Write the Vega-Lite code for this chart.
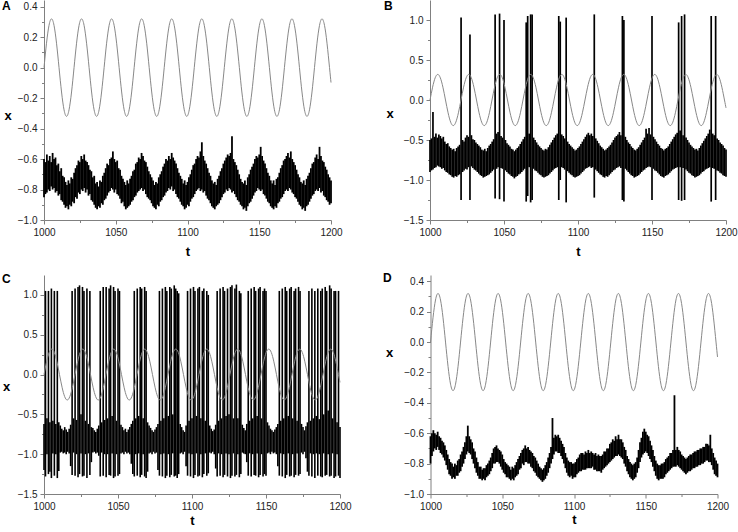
{
"$schema": "https://vega.github.io/schema/vega-lite/v6.json",
"padding": {"left": 2, "top": 0, "right": 0, "bottom": 0},
"background": "white",
"config": {
  "view": {"stroke": null},
  "font": "Liberation Sans",
  "axis": {"grid": false, "domainColor": "#808080", "tickColor": "#808080", "domainWidth": 1, "tickWidth": 1, "tickCount": 100, "labelFont": "Liberation Sans", "labelFontSize": 10, "labelColor": "#222222", "labelPadding": 3, "labelFlush": false, "labelOverlap": false, "titleFont": "Liberation Sans", "titleFontSize": 13, "titleFontWeight": "bold", "titleColor": "#000000"}
},
"datasets": {
  "sine": [{"t":1000,"x":0},{"t":1001.75,"x":0.16},{"t":1003.49,"x":0.277},{"t":1005.24,"x":0.32},{"t":1006.98,"x":0.277},{"t":1008.73,"x":0.16},{"t":1010.47,"x":0},{"t":1012.22,"x":-0.16},{"t":1013.96,"x":-0.277},{"t":1015.71,"x":-0.32},{"t":1017.45,"x":-0.277},{"t":1019.2,"x":-0.16},{"t":1020.94,"x":0},{"t":1022.69,"x":0.16},{"t":1024.43,"x":0.277},{"t":1026.18,"x":0.32},{"t":1027.93,"x":0.277},{"t":1029.67,"x":0.16},{"t":1031.42,"x":0},{"t":1033.16,"x":-0.16},{"t":1034.91,"x":-0.277},{"t":1036.65,"x":-0.32},{"t":1038.4,"x":-0.277},{"t":1040.14,"x":-0.16},{"t":1041.89,"x":0},{"t":1043.63,"x":0.16},{"t":1045.38,"x":0.277},{"t":1047.12,"x":0.32},{"t":1048.87,"x":0.277},{"t":1050.61,"x":0.16},{"t":1052.36,"x":0},{"t":1054.11,"x":-0.16},{"t":1055.85,"x":-0.277},{"t":1057.6,"x":-0.32},{"t":1059.34,"x":-0.277},{"t":1061.09,"x":-0.16},{"t":1062.83,"x":0},{"t":1064.58,"x":0.16},{"t":1066.32,"x":0.277},{"t":1068.07,"x":0.32},{"t":1069.81,"x":0.277},{"t":1071.56,"x":0.16},{"t":1073.3,"x":0},{"t":1075.05,"x":-0.16},{"t":1076.79,"x":-0.277},{"t":1078.54,"x":-0.32},{"t":1080.29,"x":-0.277},{"t":1082.03,"x":-0.16},{"t":1083.78,"x":0},{"t":1085.52,"x":0.16},{"t":1087.27,"x":0.277},{"t":1089.01,"x":0.32},{"t":1090.76,"x":0.277},{"t":1092.5,"x":0.16},{"t":1094.25,"x":0},{"t":1095.99,"x":-0.16},{"t":1097.74,"x":-0.277},{"t":1099.48,"x":-0.32},{"t":1101.23,"x":-0.277},{"t":1102.97,"x":-0.16},{"t":1104.72,"x":0},{"t":1106.47,"x":0.16},{"t":1108.21,"x":0.277},{"t":1109.96,"x":0.32},{"t":1111.7,"x":0.277},{"t":1113.45,"x":0.16},{"t":1115.19,"x":0},{"t":1116.94,"x":-0.16},{"t":1118.68,"x":-0.277},{"t":1120.43,"x":-0.32},{"t":1122.17,"x":-0.277},{"t":1123.92,"x":-0.16},{"t":1125.66,"x":0},{"t":1127.41,"x":0.16},{"t":1129.15,"x":0.277},{"t":1130.9,"x":0.32},{"t":1132.65,"x":0.277},{"t":1134.39,"x":0.16},{"t":1136.14,"x":0},{"t":1137.88,"x":-0.16},{"t":1139.63,"x":-0.277},{"t":1141.37,"x":-0.32},{"t":1143.12,"x":-0.277},{"t":1144.86,"x":-0.16},{"t":1146.61,"x":0},{"t":1148.35,"x":0.16},{"t":1150.1,"x":0.277},{"t":1151.84,"x":0.32},{"t":1153.59,"x":0.277},{"t":1155.33,"x":0.16},{"t":1157.08,"x":0},{"t":1158.83,"x":-0.16},{"t":1160.57,"x":-0.277},{"t":1162.32,"x":-0.32},{"t":1164.06,"x":-0.277},{"t":1165.81,"x":-0.16},{"t":1167.55,"x":0},{"t":1169.3,"x":0.16},{"t":1171.04,"x":0.277},{"t":1172.79,"x":0.32},{"t":1174.53,"x":0.277},{"t":1176.28,"x":0.16},{"t":1178.02,"x":0},{"t":1179.77,"x":-0.16},{"t":1181.51,"x":-0.277},{"t":1183.26,"x":-0.32},{"t":1185.01,"x":-0.277},{"t":1186.75,"x":-0.16},{"t":1188.5,"x":0},{"t":1190.24,"x":0.16},{"t":1191.99,"x":0.277},{"t":1193.73,"x":0.32},{"t":1195.48,"x":0.277},{"t":1197.22,"x":0.16},{"t":1198.97,"x":0},{"t":1200,"x":-0.098}]
},
"spacing": 13,
"vconcat": [
{
"hconcat": [
{
"width": 287, "height": 220,
"title": {"text": "A", "anchor": "start", "frame": "group", "orient": "top", "offset": -13, "dx": -42, "fontSize": 12, "fontWeight": "bold", "font": "Liberation Sans", "color": "#000"},
"layer": [
{"data": {"values": "t,lo,hi\n1000,-0.85,-0.60\n1001,-0.83,-0.62\n1002,-0.82,-0.57\n1003,-0.80,-0.61\n1004,-0.81,-0.58\n1005,-0.78,-0.62\n1006,-0.80,-0.56\n1007,-0.79,-0.60\n1008,-0.82,-0.59\n1009,-0.81,-0.64\n1010,-0.84,-0.63\n1011,-0.83,-0.68\n1012,-0.87,-0.66\n1013,-0.88,-0.71\n1014,-0.90,-0.72\n1015,-0.92,-0.75\n1016,-0.91,-0.77\n1017,-0.93,-0.74\n1018,-0.90,-0.76\n1019,-0.91,-0.72\n1020,-0.88,-0.73\n1021,-0.89,-0.69\n1022,-0.85,-0.66\n1023,-0.86,-0.64\n1024,-0.82,-0.61\n1025,-0.83,-0.62\n1026,-0.80,-0.58\n1027,-0.81,-0.60\n1028,-0.79,-0.57\n1029,-0.82,-0.61\n1030,-0.80,-0.62\n1031,-0.84,-0.64\n1032,-0.83,-0.67\n1033,-0.87,-0.68\n1034,-0.88,-0.72\n1035,-0.90,-0.71\n1036,-0.92,-0.76\n1037,-0.93,-0.75\n1038,-0.91,-0.78\n1039,-0.92,-0.74\n1040,-0.89,-0.75\n1041,-0.90,-0.71\n1042,-0.87,-0.69\n1043,-0.86,-0.66\n1044,-0.84,-0.63\n1045,-0.82,-0.64\n1046,-0.81,-0.60\n1047,-0.79,-0.59\n1048,-0.80,-0.55\n1049,-0.82,-0.60\n1050,-0.80,-0.62\n1051,-0.83,-0.61\n1052,-0.84,-0.66\n1053,-0.86,-0.67\n1054,-0.89,-0.71\n1055,-0.88,-0.73\n1056,-0.91,-0.75\n1057,-0.93,-0.77\n1058,-0.92,-0.74\n1059,-0.91,-0.76\n1060,-0.90,-0.73\n1061,-0.88,-0.71\n1062,-0.87,-0.68\n1063,-0.85,-0.67\n1064,-0.84,-0.63\n1065,-0.82,-0.62\n1066,-0.81,-0.59\n1067,-0.80,-0.60\n1068,-0.79,-0.56\n1069,-0.81,-0.58\n1070,-0.80,-0.61\n1071,-0.83,-0.62\n1072,-0.85,-0.65\n1073,-0.86,-0.68\n1074,-0.87,-0.70\n1075,-0.89,-0.72\n1076,-0.91,-0.74\n1077,-0.92,-0.77\n1078,-0.93,-0.75\n1079,-0.90,-0.76\n1080,-0.91,-0.72\n1081,-0.88,-0.70\n1082,-0.87,-0.68\n1083,-0.85,-0.65\n1084,-0.84,-0.63\n1085,-0.82,-0.60\n1086,-0.81,-0.61\n1087,-0.79,-0.58\n1088,-0.80,-0.60\n1089,-0.78,-0.56\n1090,-0.81,-0.59\n1091,-0.80,-0.61\n1092,-0.83,-0.63\n1093,-0.85,-0.66\n1094,-0.86,-0.69\n1095,-0.88,-0.71\n1096,-0.90,-0.73\n1097,-0.91,-0.76\n1098,-0.93,-0.74\n1099,-0.92,-0.77\n1100,-0.90,-0.75\n1101,-0.91,-0.72\n1102,-0.88,-0.70\n1103,-0.86,-0.67\n1104,-0.85,-0.64\n1105,-0.83,-0.63\n1106,-0.81,-0.60\n1107,-0.80,-0.58\n1108,-0.79,-0.59\n1109,-0.81,-0.55\n1110,-0.80,-0.49\n1111,-0.82,-0.58\n1112,-0.81,-0.61\n1113,-0.84,-0.63\n1114,-0.86,-0.66\n1115,-0.87,-0.69\n1116,-0.89,-0.71\n1117,-0.91,-0.74\n1118,-0.92,-0.76\n1119,-0.93,-0.75\n1120,-0.91,-0.77\n1121,-0.90,-0.73\n1122,-0.89,-0.71\n1123,-0.87,-0.68\n1124,-0.85,-0.66\n1125,-0.83,-0.63\n1126,-0.82,-0.61\n1127,-0.80,-0.59\n1128,-0.81,-0.57\n1129,-0.79,-0.58\n1130,-0.80,-0.56\n1131,-0.82,-0.45\n1132,-0.81,-0.60\n1133,-0.83,-0.62\n1134,-0.85,-0.64\n1135,-0.87,-0.67\n1136,-0.88,-0.70\n1137,-0.90,-0.73\n1138,-0.91,-0.75\n1139,-0.93,-0.76\n1140,-0.92,-0.74\n1141,-0.94,-0.77\n1142,-0.91,-0.72\n1143,-0.89,-0.70\n1144,-0.88,-0.67\n1145,-0.86,-0.65\n1146,-0.84,-0.63\n1147,-0.82,-0.60\n1148,-0.81,-0.58\n1149,-0.79,-0.59\n1150,-0.80,-0.57\n1151,-0.81,-0.52\n1152,-0.80,-0.58\n1153,-0.83,-0.61\n1154,-0.84,-0.63\n1155,-0.86,-0.66\n1156,-0.88,-0.69\n1157,-0.89,-0.71\n1158,-0.91,-0.74\n1159,-0.92,-0.76\n1160,-0.93,-0.74\n1161,-0.91,-0.77\n1162,-0.92,-0.73\n1163,-0.89,-0.72\n1164,-0.88,-0.69\n1165,-0.86,-0.66\n1166,-0.85,-0.64\n1167,-0.83,-0.61\n1168,-0.81,-0.60\n1169,-0.80,-0.58\n1170,-0.81,-0.56\n1171,-0.79,-0.59\n1172,-0.80,-0.55\n1173,-0.82,-0.60\n1174,-0.83,-0.62\n1175,-0.85,-0.64\n1176,-0.86,-0.67\n1177,-0.88,-0.70\n1178,-0.90,-0.72\n1179,-0.91,-0.75\n1180,-0.93,-0.76\n1181,-0.92,-0.74\n1182,-0.94,-0.77\n1183,-0.91,-0.73\n1184,-0.90,-0.71\n1185,-0.88,-0.69\n1186,-0.86,-0.66\n1187,-0.84,-0.63\n1188,-0.83,-0.62\n1189,-0.81,-0.59\n1190,-0.80,-0.57\n1191,-0.81,-0.60\n1192,-0.79,-0.52\n1193,-0.82,-0.58\n1194,-0.81,-0.61\n1195,-0.84,-0.62\n1196,-0.85,-0.65\n1197,-0.87,-0.67\n1198,-0.88,-0.70\n1199,-0.90,-0.72\n1200,-0.89,-0.74", "format": {"type": "csv", "parse": {"t": "number", "lo": "number", "hi": "number"}}},
 "mark": {"type": "rule", "color": "#000000", "strokeWidth": 1.8},
 "encoding": {
  "x": {"field": "t", "type": "quantitative", "title": "t", "scale": {"domain": [1000, 1200], "nice": false, "zero": false}, "axis": {"values": [1000,1025,1050,1075,1100,1125,1150,1175,1200], "tickCount": 100, "format": "d", "labelOverlap": false, "labelExpr": "datum.value % 50 == 0 ? datum.label : ''", "tickSize": {"condition": {"test": "datum.value % 50 != 0", "value": 2.5}, "value": 4}, "titleY": 31, "titleBaseline": "middle"}},
  "y": {"field": "lo", "type": "quantitative", "title": "x", "scale": {"domain": [-1, 0.4436], "nice": false, "zero": false}, "axis": {"values": [-1,-0.9,-0.8,-0.7,-0.6,-0.5,-0.4,-0.3,-0.2,-0.1,0,0.1,0.2,0.3,0.4], "tickCount": 100, "format": ".1f", "labelOverlap": false, "labelExpr": "abs(round(datum.value*10)) % 2 == 1 ? '' : datum.label", "tickSize": {"condition": {"test": "abs(round(datum.value*10)) % 2 == 1", "value": 2.5}, "value": 4}, "titleAngle": 0, "titleX": -36.5, "titleY": 115, "titleAlign": "center", "titleBaseline": "middle"}},
  "y2": {"field": "hi"}
 }},
{"data": {"name": "sine"}, "mark": {"type": "line", "color": "#888888", "strokeWidth": 1, "interpolate": "natural"},
 "encoding": {"x": {"field": "t", "type": "quantitative", "title": "t"}, "y": {"field": "x", "type": "quantitative", "title": "x"}}}
]
},
{
"width": 296, "height": 220,
"title": {"text": "B", "anchor": "start", "frame": "group", "orient": "top", "offset": -13, "dx": -46, "fontSize": 12, "fontWeight": "bold", "font": "Liberation Sans", "color": "#000"},
"layer": [
{"data": {"values": "t,lo,hi\n1000,-0.90,-0.50\n1001,-0.88,-0.48\n1002,-0.87,-0.15\n1003,-0.85,-0.46\n1004,-0.84,-0.42\n1005,-0.82,-0.47\n1006,-0.83,-0.43\n1007,-0.84,-0.45\n1008,-0.86,-0.48\n1009,-0.85,-0.46\n1010,-0.88,-0.52\n1011,-0.90,-0.55\n1012,-0.91,-0.54\n1013,-0.93,-0.58\n1014,-0.94,-0.60\n1015,-0.96,-0.62\n1016,-0.97,-0.61\n1017,-0.95,-0.64\n1018,-0.96,-0.60\n1019,-0.94,-0.58\n1020,-0.93,-0.56\n1021,-1.25,1.03\n1022,-0.90,-0.50\n1023,-0.88,-0.52\n1024,-0.86,-0.47\n1025,-0.87,-0.44\n1026,-0.84,-0.46\n1027,-1.25,0.82\n1028,-0.83,-0.44\n1029,-0.85,-0.49\n1030,-0.87,-0.50\n1031,-0.88,-0.53\n1032,-0.90,-0.55\n1033,-0.92,-0.57\n1034,-0.94,-0.59\n1035,-0.95,-0.62\n1036,-0.97,-0.63\n1037,-0.96,-0.61\n1038,-0.95,-0.64\n1039,-0.94,-0.60\n1040,-0.93,-0.57\n1041,-0.91,-0.55\n1042,-0.89,-0.52\n1043,-0.87,-0.49\n1044,-1.23,1.07\n1045,-0.86,-0.42\n1046,-0.84,-0.40\n1047,-1.24,1.08\n1048,-0.85,-0.45\n1049,-0.86,-0.47\n1050,-1.27,1.00\n1051,-0.88,-0.50\n1052,-0.90,-0.54\n1053,-0.92,-0.56\n1054,-0.93,-0.58\n1055,-0.95,-0.61\n1056,-0.96,-0.62\n1057,-0.98,-0.64\n1058,-0.96,-0.62\n1059,-0.95,-0.60\n1060,-0.93,-0.58\n1061,-0.92,-0.55\n1062,-0.90,-0.52\n1063,-0.88,-0.49\n1064,-0.86,-0.46\n1065,-1.27,0.97\n1066,-1.20,1.05\n1067,-0.84,-0.42\n1068,-1.28,1.07\n1069,-1.25,1.07\n1070,-0.86,-0.47\n1071,-0.88,-0.50\n1072,-0.89,-0.53\n1073,-0.91,-0.56\n1074,-0.93,-0.58\n1075,-0.94,-0.60\n1076,-0.96,-0.62\n1077,-0.97,-0.63\n1078,-0.96,-0.61\n1079,-0.95,-0.62\n1080,-0.94,-0.59\n1081,-0.92,-0.56\n1082,-0.90,-0.53\n1083,-0.88,-0.50\n1084,-0.86,-0.47\n1085,-0.85,-0.44\n1086,-0.84,-0.42\n1087,-1.25,1.05\n1088,-1.00,0.98\n1089,-0.84,-0.43\n1090,-0.85,-0.45\n1091,-0.87,-0.48\n1092,-1.28,1.03\n1093,-0.89,-0.52\n1094,-0.91,-0.55\n1095,-0.93,-0.57\n1096,-0.94,-0.59\n1097,-0.96,-0.61\n1098,-0.97,-0.63\n1099,-0.96,-0.62\n1100,-0.95,-0.60\n1101,-0.94,-0.58\n1102,-0.92,-0.55\n1103,-0.90,-0.52\n1104,-0.88,-0.49\n1105,-0.86,-0.46\n1106,-0.85,-0.43\n1107,-0.84,-0.41\n1108,-0.83,-0.44\n1109,-0.85,-0.42\n1110,-0.84,-0.45\n1111,-1.22,1.07\n1112,-0.87,-0.48\n1113,-0.89,-0.51\n1114,-0.91,-0.54\n1115,-0.93,-0.57\n1116,-0.94,-0.59\n1117,-0.96,-0.61\n1118,-0.97,-0.63\n1119,-0.95,-0.62\n1120,-0.96,-0.60\n1121,-0.94,-0.58\n1122,-0.92,-0.56\n1123,-0.90,-0.53\n1124,-0.88,-0.50\n1125,-0.87,-0.47\n1126,-0.85,-0.45\n1127,-0.84,-0.43\n1128,-0.83,-0.40\n1129,-0.85,-0.44\n1130,-1.25,1.05\n1131,-1.27,1.00\n1132,-0.86,-0.46\n1133,-0.88,-0.50\n1134,-0.90,-0.53\n1135,-0.92,-0.55\n1136,-0.94,-0.58\n1137,-0.95,-0.60\n1138,-0.97,-0.62\n1139,-0.96,-0.63\n1140,-0.95,-0.61\n1141,-0.94,-0.59\n1142,-0.92,-0.56\n1143,-0.90,-0.53\n1144,-0.88,-0.50\n1145,-0.87,-0.47\n1146,-0.85,-0.36\n1147,-0.84,-0.42\n1148,-0.83,-0.35\n1149,-0.84,-0.43\n1150,-1.25,1.05\n1151,-0.86,-0.46\n1152,-0.88,-0.49\n1153,-0.89,-0.52\n1154,-0.91,-0.55\n1155,-0.93,-0.57\n1156,-0.95,-0.60\n1157,-0.96,-0.61\n1158,-0.97,-0.63\n1159,-0.95,-0.61\n1160,-0.94,-0.60\n1161,-0.93,-0.58\n1162,-0.91,-0.55\n1163,-0.89,-0.52\n1164,-0.87,-0.49\n1165,-0.86,-0.46\n1166,-0.85,-0.43\n1167,-0.84,-0.41\n1168,-1.25,0.97\n1169,-0.84,-0.38\n1170,-1.26,1.05\n1171,-0.85,-0.44\n1172,-1.25,1.07\n1173,-0.87,-0.47\n1174,-0.89,-0.50\n1175,-0.91,-0.53\n1176,-0.92,-0.56\n1177,-0.94,-0.58\n1178,-0.95,-0.60\n1179,-0.97,-0.62\n1180,-0.96,-0.61\n1181,-0.95,-0.63\n1182,-0.94,-0.60\n1183,-0.92,-0.57\n1184,-0.90,-0.54\n1185,-0.89,-0.51\n1186,-0.87,-0.48\n1187,-0.86,-0.45\n1188,-0.85,-0.42\n1189,-0.84,-0.37\n1190,-1.27,1.05\n1191,-0.85,-0.42\n1192,-0.86,-0.44\n1193,-1.25,1.05\n1194,-0.88,-0.48\n1195,-0.89,-0.50\n1196,-0.91,-0.53\n1197,-0.92,-0.55\n1198,-0.94,-0.57\n1199,-0.95,-0.60\n1200,-0.96,-0.62", "format": {"type": "csv", "parse": {"t": "number", "lo": "number", "hi": "number"}}},
 "mark": {"type": "rule", "color": "#000000", "strokeWidth": 1.7},
 "encoding": {
  "x": {"field": "t", "type": "quantitative", "title": "t", "scale": {"domain": [1000, 1200], "nice": false, "zero": false}, "axis": {"values": [1000,1025,1050,1075,1100,1125,1150,1175,1200], "tickCount": 100, "format": "d", "labelOverlap": false, "labelExpr": "datum.value % 50 == 0 ? datum.label : ''", "tickSize": {"condition": {"test": "datum.value % 50 != 0", "value": 2.5}, "value": 4}, "titleY": 31, "titleBaseline": "middle"}},
  "y": {"field": "lo", "type": "quantitative", "title": "x", "scale": {"domain": [-1.5, 1.25], "nice": false, "zero": false}, "axis": {"values": [-1.5,-1.25,-1,-0.75,-0.5,-0.25,0,0.25,0.5,0.75,1], "tickCount": 100, "format": ".1f", "labelOverlap": false, "labelExpr": "abs(round(datum.value*4)) % 2 == 1 ? '' : datum.label", "tickSize": {"condition": {"test": "abs(round(datum.value*4)) % 2 == 1", "value": 2.5}, "value": 4}, "titleAngle": 0, "titleX": -40.5, "titleY": 113.5, "titleAlign": "center", "titleBaseline": "middle"}},
  "y2": {"field": "hi"}
 }},
{"data": {"name": "sine"}, "mark": {"type": "line", "color": "#888888", "strokeWidth": 1, "interpolate": "natural"},
 "encoding": {"x": {"field": "t", "type": "quantitative", "title": "t"}, "y": {"field": "x", "type": "quantitative", "title": "x"}}}
]
}
],
"spacing": 99,
"bounds": "flush"
},
{
"hconcat": [
{
"width": 296, "height": 219,
"title": {"text": "C", "anchor": "start", "frame": "group", "orient": "top", "offset": -11.4, "dx": -42, "fontSize": 12, "fontWeight": "bold", "font": "Liberation Sans", "color": "#000"},
"layer": [
{"data": {"values": "t,lo,hi\n1000,-1.20,-0.62\n1001,-1.28,1.05\n1002,-1.00,-0.55\n1003,-1.25,1.05\n1004,-1.22,-0.60\n1005,-1.30,1.08\n1006,-0.99,-0.58\n1007,-1.27,1.05\n1008,-1.00,-0.62\n1009,-1.30,1.05\n1010,-1.21,-0.60\n1011,-0.98,-0.64\n1012,-0.97,-0.68\n1013,-0.99,-0.70\n1014,-0.98,-0.66\n1015,-1.00,-0.69\n1016,-0.97,-0.72\n1017,-0.99,-0.68\n1018,-1.15,-0.63\n1019,-1.26,1.05\n1020,-0.98,-0.55\n1021,-1.27,1.08\n1022,-1.00,-0.57\n1023,-1.29,1.10\n1024,-1.25,1.12\n1025,-0.99,-0.50\n1026,-1.28,1.10\n1027,-1.27,1.05\n1028,-1.00,-0.58\n1029,-1.30,1.08\n1030,-0.99,-0.62\n1031,-1.26,1.05\n1032,-1.10,-0.66\n1033,-0.98,-0.67\n1034,-0.97,-0.70\n1035,-0.99,-0.72\n1036,-0.98,-0.68\n1037,-1.02,-0.64\n1038,-1.28,1.05\n1039,-0.98,-0.60\n1040,-1.27,1.10\n1041,-1.00,-0.57\n1042,-1.29,1.10\n1043,-1.00,-0.55\n1044,-1.26,1.08\n1045,-1.27,1.12\n1046,-0.99,-0.52\n1047,-1.30,1.10\n1048,-1.28,1.05\n1049,-1.00,-0.58\n1050,-1.27,1.08\n1051,-1.25,1.05\n1052,-0.99,-0.63\n1053,-0.98,-0.66\n1054,-1.00,-0.70\n1055,-0.97,-0.68\n1056,-0.99,-0.72\n1057,-0.98,-0.69\n1058,-1.00,-0.66\n1059,-1.12,-0.62\n1060,-1.25,-0.58\n1061,-1.28,1.05\n1062,-1.00,-0.55\n1063,-1.27,1.08\n1064,-0.99,-0.52\n1065,-1.29,1.10\n1066,-1.26,1.08\n1067,-1.00,-0.55\n1068,-1.28,1.10\n1069,-1.30,1.05\n1070,-1.22,-0.60\n1071,-0.99,-0.64\n1072,-0.98,-0.67\n1073,-1.00,-0.70\n1074,-0.97,-0.72\n1075,-0.99,-0.69\n1076,-0.98,-0.66\n1077,-1.20,-0.62\n1078,-1.27,1.05\n1079,-1.00,-0.58\n1080,-1.28,1.08\n1081,-0.99,-0.55\n1082,-1.30,1.10\n1083,-1.27,1.05\n1084,-1.00,-0.52\n1085,-1.29,1.10\n1086,-1.26,1.08\n1087,-0.99,-0.50\n1088,-1.28,1.12\n1089,-1.27,1.08\n1090,-1.30,1.05\n1091,-1.25,1.02\n1092,-0.99,-0.62\n1093,-0.98,-0.66\n1094,-1.00,-0.70\n1095,-0.97,-0.72\n1096,-1.15,-0.64\n1097,-1.27,1.05\n1098,-0.99,-0.58\n1099,-1.28,1.08\n1100,-1.00,-0.55\n1101,-1.30,1.10\n1102,-1.26,1.05\n1103,-0.99,-0.52\n1104,-1.28,1.08\n1105,-1.27,1.10\n1106,-1.00,-0.55\n1107,-1.29,1.05\n1108,-1.25,1.08\n1109,-0.99,-0.58\n1110,-1.27,1.05\n1111,-1.24,1.00\n1112,-0.98,-0.64\n1113,-0.99,-0.68\n1114,-0.97,-0.71\n1115,-1.00,-0.69\n1116,-1.18,-0.63\n1117,-1.28,1.05\n1118,-0.99,-0.58\n1119,-1.27,1.08\n1120,-1.00,-0.55\n1121,-1.29,1.10\n1122,-1.26,1.05\n1123,-0.99,-0.52\n1124,-1.28,1.08\n1125,-1.00,-0.50\n1126,-1.30,1.10\n1127,-1.27,1.12\n1128,-0.99,-0.55\n1129,-1.28,1.08\n1130,-1.26,1.13\n1131,-1.00,-0.55\n1132,-1.29,1.05\n1133,-1.25,1.02\n1134,-0.98,-0.63\n1135,-0.99,-0.67\n1136,-1.00,-0.70\n1137,-1.10,-0.62\n1138,-1.27,1.05\n1139,-0.99,-0.58\n1140,-1.28,1.08\n1141,-1.00,-0.55\n1142,-1.26,1.10\n1143,-1.27,1.05\n1144,-0.99,-0.52\n1145,-1.29,1.08\n1146,-1.26,1.10\n1147,-1.00,-0.55\n1148,-1.28,1.05\n1149,-1.25,1.08\n1150,-1.27,1.05\n1151,-0.99,-0.60\n1152,-0.98,-0.64\n1153,-1.00,-0.68\n1154,-0.97,-0.70\n1155,-0.99,-0.72\n1156,-0.98,-0.69\n1157,-1.00,-0.66\n1158,-1.15,-0.62\n1159,-1.27,1.05\n1160,-0.99,-0.58\n1161,-1.28,1.08\n1162,-1.00,-0.55\n1163,-1.30,1.10\n1164,-1.26,1.05\n1165,-0.99,-0.52\n1166,-1.28,1.08\n1167,-1.27,1.10\n1168,-1.00,-0.55\n1169,-1.29,1.05\n1170,-1.26,1.08\n1171,-0.99,-0.58\n1172,-1.27,1.10\n1173,-1.25,1.05\n1174,-0.98,-0.62\n1175,-1.00,-0.66\n1176,-0.97,-0.70\n1177,-1.05,-0.65\n1178,-1.22,-0.60\n1179,-1.27,1.05\n1180,-0.99,-0.58\n1181,-1.28,1.08\n1182,-1.00,-0.55\n1183,-1.30,1.05\n1184,-0.99,-0.52\n1185,-1.27,1.08\n1186,-1.00,-0.56\n1187,-1.28,1.05\n1188,-1.29,1.08\n1189,-0.99,-0.50\n1190,-1.27,1.10\n1191,-1.26,1.05\n1192,-1.00,-0.45\n1193,-1.28,1.12\n1194,-1.27,1.08\n1195,-0.99,-0.55\n1196,-1.30,1.05\n1197,-1.28,1.05\n1198,-1.00,-0.60\n1199,-1.27,1.05\n1200,-1.30,-0.66", "format": {"type": "csv", "parse": {"t": "number", "lo": "number", "hi": "number"}}},
 "mark": {"type": "rule", "color": "#000000", "strokeWidth": 1.6},
 "encoding": {
  "x": {"field": "t", "type": "quantitative", "title": "t", "scale": {"domain": [1000, 1200], "nice": false, "zero": false}, "axis": {"values": [1000,1025,1050,1075,1100,1125,1150,1175,1200], "tickCount": 100, "format": "d", "labelOverlap": false, "labelExpr": "datum.value % 50 == 0 ? datum.label : ''", "tickSize": {"condition": {"test": "datum.value % 50 != 0", "value": 2.5}, "value": 4}, "titleY": 26.5, "titleBaseline": "middle"}},
  "y": {"field": "lo", "type": "quantitative", "title": "x", "scale": {"domain": [-1.5, 1.25], "nice": false, "zero": false}, "axis": {"values": [-1.5,-1.25,-1,-0.75,-0.5,-0.25,0,0.25,0.5,0.75,1], "tickCount": 100, "format": ".1f", "labelOverlap": false, "labelExpr": "abs(round(datum.value*4)) % 2 == 1 ? '' : datum.label", "tickSize": {"condition": {"test": "abs(round(datum.value*4)) % 2 == 1", "value": 2.5}, "value": 4}, "titleAngle": 0, "titleX": -38, "titleY": 111.5, "titleAlign": "center", "titleBaseline": "middle"}},
  "y2": {"field": "hi"}
 }},
{"data": {"name": "sine"}, "mark": {"type": "line", "color": "#888888", "strokeWidth": 1, "interpolate": "natural"},
 "encoding": {"x": {"field": "t", "type": "quantitative", "title": "t"}, "y": {"field": "x", "type": "quantitative", "title": "x"}}}
]
},
{
"width": 287, "height": 219,
"title": {"text": "D", "anchor": "start", "frame": "group", "orient": "top", "offset": -9.7, "dx": -47.5, "fontSize": 12, "fontWeight": "bold", "font": "Liberation Sans", "color": "#000"},
"layer": [
{"data": {"values": "t,lo,hi\n1000,-0.80,-0.62\n1001,-0.75,-0.60\n1002,-0.72,-0.58\n1003,-0.70,-0.60\n1004,-0.71,-0.61\n1005,-0.69,-0.59\n1006,-0.71,-0.62\n1007,-0.73,-0.63\n1008,-0.74,-0.65\n1009,-0.76,-0.66\n1010,-0.78,-0.68\n1011,-0.81,-0.71\n1012,-0.84,-0.74\n1013,-0.87,-0.77\n1014,-0.88,-0.79\n1015,-0.90,-0.80\n1016,-0.89,-0.82\n1017,-0.90,-0.80\n1018,-0.88,-0.81\n1019,-0.88,-0.78\n1020,-0.86,-0.77\n1021,-0.85,-0.74\n1022,-0.82,-0.72\n1023,-0.80,-0.69\n1024,-0.77,-0.66\n1025,-0.74,-0.62\n1026,-0.72,-0.55\n1027,-0.73,-0.62\n1028,-0.74,-0.64\n1029,-0.77,-0.66\n1030,-0.80,-0.70\n1031,-0.83,-0.72\n1032,-0.86,-0.76\n1033,-0.88,-0.79\n1034,-0.90,-0.82\n1035,-0.90,-0.82\n1036,-0.91,-0.84\n1037,-0.90,-0.83\n1038,-0.91,-0.83\n1039,-0.89,-0.81\n1040,-0.88,-0.80\n1041,-0.87,-0.78\n1042,-0.85,-0.76\n1043,-0.83,-0.73\n1044,-0.80,-0.70\n1045,-0.80,-0.69\n1046,-0.79,-0.68\n1047,-0.79,-0.70\n1048,-0.80,-0.71\n1049,-0.82,-0.72\n1050,-0.84,-0.74\n1051,-0.86,-0.77\n1052,-0.87,-0.79\n1053,-0.89,-0.80\n1054,-0.89,-0.81\n1055,-0.90,-0.82\n1056,-0.91,-0.84\n1057,-0.90,-0.82\n1058,-0.91,-0.83\n1059,-0.89,-0.81\n1060,-0.88,-0.79\n1061,-0.87,-0.77\n1062,-0.84,-0.75\n1063,-0.83,-0.73\n1064,-0.80,-0.71\n1065,-0.81,-0.70\n1066,-0.79,-0.68\n1067,-0.79,-0.70\n1068,-0.80,-0.69\n1069,-0.80,-0.71\n1070,-0.82,-0.72\n1071,-0.83,-0.73\n1072,-0.85,-0.75\n1073,-0.86,-0.76\n1074,-0.88,-0.78\n1075,-0.89,-0.80\n1076,-0.90,-0.82\n1077,-0.91,-0.83\n1078,-0.92,-0.84\n1079,-0.91,-0.83\n1080,-0.90,-0.81\n1081,-0.88,-0.79\n1082,-0.86,-0.76\n1083,-0.83,-0.73\n1084,-0.80,-0.69\n1085,-0.77,-0.50\n1086,-0.74,-0.63\n1087,-0.72,-0.61\n1088,-0.72,-0.62\n1089,-0.73,-0.61\n1090,-0.73,-0.63\n1091,-0.75,-0.65\n1092,-0.77,-0.67\n1093,-0.80,-0.69\n1094,-0.83,-0.73\n1095,-0.86,-0.76\n1096,-0.88,-0.78\n1097,-0.89,-0.79\n1098,-0.88,-0.79\n1099,-0.90,-0.80\n1100,-0.89,-0.80\n1101,-0.89,-0.79\n1102,-0.87,-0.77\n1103,-0.86,-0.76\n1104,-0.85,-0.74\n1105,-0.85,-0.73\n1106,-0.84,-0.73\n1107,-0.84,-0.74\n1108,-0.84,-0.72\n1109,-0.83,-0.73\n1110,-0.83,-0.71\n1111,-0.83,-0.73\n1112,-0.83,-0.72\n1113,-0.82,-0.73\n1114,-0.84,-0.74\n1115,-0.84,-0.73\n1116,-0.85,-0.75\n1117,-0.85,-0.74\n1118,-0.85,-0.75\n1119,-0.86,-0.75\n1120,-0.84,-0.74\n1121,-0.83,-0.72\n1122,-0.82,-0.72\n1123,-0.81,-0.70\n1124,-0.80,-0.70\n1125,-0.79,-0.67\n1126,-0.78,-0.66\n1127,-0.77,-0.64\n1128,-0.76,-0.65\n1129,-0.75,-0.62\n1130,-0.75,-0.64\n1131,-0.74,-0.61\n1132,-0.75,-0.64\n1133,-0.76,-0.64\n1134,-0.77,-0.66\n1135,-0.80,-0.69\n1136,-0.82,-0.71\n1137,-0.85,-0.75\n1138,-0.87,-0.77\n1139,-0.89,-0.79\n1140,-0.90,-0.80\n1141,-0.91,-0.81\n1142,-0.90,-0.80\n1143,-0.89,-0.79\n1144,-0.86,-0.76\n1145,-0.83,-0.71\n1146,-0.79,-0.66\n1147,-0.76,-0.63\n1148,-0.74,-0.59\n1149,-0.73,-0.57\n1150,-0.72,-0.59\n1151,-0.73,-0.61\n1152,-0.75,-0.62\n1153,-0.77,-0.65\n1154,-0.79,-0.68\n1155,-0.82,-0.71\n1156,-0.85,-0.75\n1157,-0.88,-0.78\n1158,-0.90,-0.80\n1159,-0.91,-0.81\n1160,-0.90,-0.81\n1161,-0.90,-0.80\n1162,-0.90,-0.80\n1163,-0.89,-0.79\n1164,-0.87,-0.77\n1165,-0.86,-0.76\n1166,-0.85,-0.75\n1167,-0.84,-0.73\n1168,-0.83,-0.73\n1169,-0.82,-0.71\n1170,-0.82,-0.35\n1171,-0.82,-0.71\n1172,-0.81,-0.69\n1173,-0.82,-0.71\n1174,-0.83,-0.72\n1175,-0.84,-0.74\n1176,-0.85,-0.75\n1177,-0.86,-0.76\n1178,-0.87,-0.77\n1179,-0.86,-0.76\n1180,-0.85,-0.75\n1181,-0.85,-0.74\n1182,-0.84,-0.74\n1183,-0.83,-0.73\n1184,-0.83,-0.72\n1185,-0.82,-0.72\n1186,-0.82,-0.71\n1187,-0.81,-0.71\n1188,-0.81,-0.70\n1189,-0.80,-0.70\n1190,-0.80,-0.69\n1191,-0.79,-0.69\n1192,-0.78,-0.67\n1193,-0.78,-0.67\n1194,-0.79,-0.68\n1195,-0.79,-0.61\n1196,-0.81,-0.70\n1197,-0.84,-0.73\n1198,-0.87,-0.76\n1199,-0.88,-0.78\n1200,-0.89,-0.80", "format": {"type": "csv", "parse": {"t": "number", "lo": "number", "hi": "number"}}},
 "mark": {"type": "rule", "color": "#000000", "strokeWidth": 1.8},
 "encoding": {
  "x": {"field": "t", "type": "quantitative", "title": "t", "scale": {"domain": [1000, 1200], "nice": false, "zero": false}, "axis": {"values": [1000,1025,1050,1075,1100,1125,1150,1175,1200], "tickCount": 100, "format": "d", "labelOverlap": false, "labelExpr": "datum.value % 50 == 0 ? datum.label : ''", "tickSize": {"condition": {"test": "datum.value % 50 != 0", "value": 2.5}, "value": 4}, "titleY": 25.5, "titleBaseline": "middle"}},
  "y": {"field": "lo", "type": "quantitative", "title": "x", "scale": {"domain": [-1, 0.4415], "nice": false, "zero": false}, "axis": {"values": [-1,-0.9,-0.8,-0.7,-0.6,-0.5,-0.4,-0.3,-0.2,-0.1,0,0.1,0.2,0.3,0.4], "tickCount": 100, "format": ".1f", "labelOverlap": false, "labelExpr": "abs(round(datum.value*10)) % 2 == 1 ? '' : datum.label", "tickSize": {"condition": {"test": "abs(round(datum.value*10)) % 2 == 1", "value": 2.5}, "value": 4}, "titleAngle": 0, "titleX": -41.5, "titleY": 77, "titleAlign": "center", "titleBaseline": "middle"}},
  "y2": {"field": "hi"}
 }},
{"data": {"name": "sine"}, "mark": {"type": "line", "color": "#888888", "strokeWidth": 1, "interpolate": "natural"},
 "encoding": {"x": {"field": "t", "type": "quantitative", "title": "t"}, "y": {"field": "x", "type": "quantitative", "title": "x"}}}
]
}
],
"spacing": 90.5,
"bounds": "flush"
}
]
}
